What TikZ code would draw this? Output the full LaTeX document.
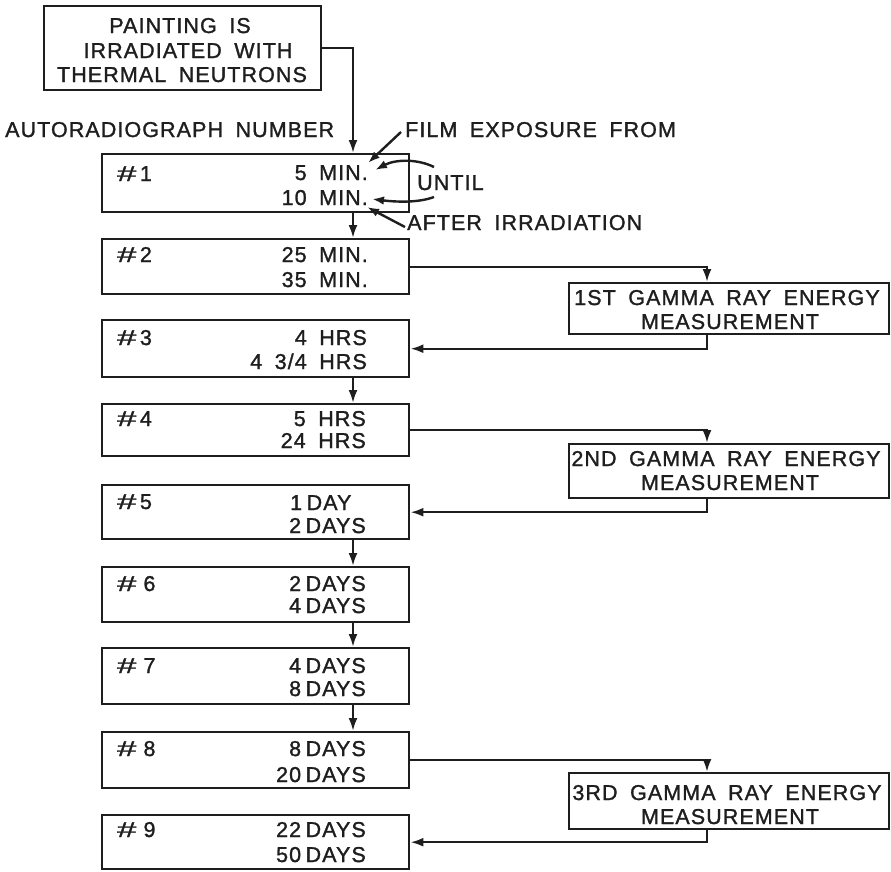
\documentclass[tikz,border=0pt]{standalone}
\usepackage{fontspec}
\usepackage{graphicx}
\setmainfont{Liberation Sans}[LetterSpace=5.0,FakeBold=1.3]
\usetikzlibrary{arrows.meta,calc}
\definecolor{ink}{RGB}{30,30,30}
\newcommand{\hs}{\scalebox{1.6}[1]{\#}}
\protected\def\widesp{\spaceskip=12.5pt\relax}
\protected\def\narrowsp{\spaceskip=4.5pt\relax}
\begin{document}
\begin{tikzpicture}[x=1pt,y=-1pt,
  box/.style={draw=ink,line width=2.4pt,inner sep=0pt,anchor=north west},
  lbl/.style={text=ink,inner sep=0pt,font=\fontsize{21.5}{24}\selectfont\widesp},
  days/.style={lbl,font=\fontsize{21.5}{24}\selectfont\narrowsp},
  conn/.style={draw=ink,line width=2.4pt},
  arr/.style={conn,-{Latex[length=13pt,width=9pt]}},
  sarr/.style={conn,-{Latex[length=12pt,width=8.5pt]}},
]
\useasboundingbox[fill=white] (0,0) rectangle (891,871);

% helper columns
\coordinate (col) at (353,0);
\coordinate (gcol) at (707,0);

% top box
\node[box,minimum width=277pt,minimum height=84pt] (topbox) at (43,5) {};
\node[lbl,anchor=base] (tl1) at (180,33) {PAINTING IS};
\node[lbl,anchor=base] (tl2) at (188,58) {IRRADIATED WITH};
\node[lbl,anchor=base] (tl3) at (182,82) {THERMAL NEUTRONS};

% outside labels
\node[lbl,anchor=base west] (autonum) at (5,137) {AUTORADIOGRAPH NUMBER};
\node[lbl,anchor=base west] (film) at (405,137) {FILM EXPOSURE FROM};
\node[lbl,anchor=base west] (until) at (417,190) {UNTIL};
\node[lbl,anchor=base west] (after) at (407,230) {AFTER IRRADIATION};

% autoradiograph boxes
\node[box,minimum width=307pt,minimum height=58pt] (b1) at (101,153) {};
\node[box,minimum width=307pt,minimum height=55pt] (b2) at (101,238) {};
\node[box,minimum width=307pt,minimum height=57pt] (b3) at (101,319) {};
\node[box,minimum width=307pt,minimum height=52pt] (b4) at (101,403) {};
\node[box,minimum width=307pt,minimum height=54pt] (b5) at (101,484) {};
\node[box,minimum width=307pt,minimum height=55pt] (b6) at (101,566) {};
\node[box,minimum width=307pt,minimum height=56pt] (b7) at (101,647) {};
\node[box,minimum width=307pt,minimum height=56pt] (b8) at (101,731) {};
\node[box,minimum width=307pt,minimum height=54pt] (b9) at (101,814) {};

% box texts
\node[lbl,anchor=base west] (n1) at (117,181) {\hs\,1};
\node[lbl,anchor=base east] (r1a) at (368,180) {5 MIN.};
\node[lbl,anchor=base east] (r1b) at (368,205) {10 MIN.};

\node[lbl,anchor=base west] (n2) at (117,262) {\hs\,2};
\node[lbl,anchor=base east] (r2a) at (368,262) {25 MIN.};
\node[lbl,anchor=base east] (r2b) at (368,287) {35 MIN.};

\node[lbl,anchor=base west] (n3) at (117,345) {\hs\,3};
\node[lbl,anchor=base east] (r3a) at (367,345) {4 HRS};
\node[lbl,anchor=base east] (r3b) at (367,369) {4 3/4 HRS};

\node[lbl,anchor=base west] (n4) at (117,426) {\hs\,4};
\node[lbl,anchor=base east] (r4a) at (366,426) {5 HRS};
\node[lbl,anchor=base east] (r4b) at (366,448) {24 HRS};

\node[lbl,anchor=base west] (n5) at (117,509) {\hs\,5};
\node[days,anchor=base west] (r5a) at (290,510) {1 DAY};
\node[days,anchor=base east] (r5b) at (366,533) {2 DAYS};

\node[lbl,anchor=base west] (n6) at (117,591) {\hs\,\,6};
\node[days,anchor=base east] (r6a) at (366,591) {2 DAYS};
\node[days,anchor=base east] (r6b) at (366,613) {4 DAYS};

\node[lbl,anchor=base west] (n7) at (117,673) {\hs\,\,7};
\node[days,anchor=base east] (r7a) at (366,673) {4 DAYS};
\node[days,anchor=base east] (r7b) at (366,696) {8 DAYS};

\node[lbl,anchor=base west] (n8) at (117,756) {\hs\,\,8};
\node[days,anchor=base east] (r8a) at (366,756) {8 DAYS};
\node[days,anchor=base east] (r8b) at (366,782) {20 DAYS};

\node[lbl,anchor=base west] (n9) at (117,837) {\hs\,\,9};
\node[days,anchor=base east] (r9a) at (366,837) {22 DAYS};
\node[days,anchor=base east] (r9b) at (366,862) {50 DAYS};

% gamma boxes
\node[box,minimum width=320pt,minimum height=51pt] (g1) at (568,282) {};
\node[lbl,anchor=base] (g1a) at (727,305) {1ST GAMMA RAY ENERGY};
\node[lbl,anchor=base] (g1b) at (730,329) {MEASUREMENT};

\node[box,minimum width=320pt,minimum height=54pt] (g2) at (568,443) {};
\node[lbl,anchor=base] (g2a) at (726,466) {2ND GAMMA RAY ENERGY};
\node[lbl,anchor=base] (g2b) at (730,490) {MEASUREMENT};

\node[box,minimum width=320pt,minimum height=56pt] (g3) at (568,772) {};
\node[lbl,anchor=base] (g3a) at (727,800) {3RD GAMMA RAY ENERGY};
\node[lbl,anchor=base] (g3b) at (730,824) {MEASUREMENT};

% main flow
\draw[arr] (topbox.east) -| (b1.north -| col);
\draw[arr] (b1.south -| col) -- (b2.north -| col);
\draw[arr] (b3.south -| col) -- (b4.north -| col);
\draw[arr] (b5.south -| col) -- (b6.north -| col);
\draw[arr] (b6.south -| col) -- (b7.north -| col);
\draw[arr] (b7.south -| col) -- (b8.north -| col);

% gamma loops
\draw[arr] (b2.east) -| (g1.north -| gcol);
\draw[arr] (g1.south -| gcol) |- (b3.east);
\draw[arr] (b4.east) -| (g2.north -| gcol);
\draw[arr] (g2.south -| gcol) |- (b5.east);
\draw[arr] (b8.east) -| (g3.north -| gcol);
\draw[arr] (g3.south -| gcol) |- (b9.east);

% annotation arrows
\coordinate (filmtail) at (401,132);
\coordinate (filmtip) at (368,163);
\coordinate (u1s) at (434,167);
\coordinate (u1e) at (375,170);
\coordinate (u2s) at (434,197);
\coordinate (u2e) at (372,199);
\coordinate (aftail) at (405,227);
\coordinate (aftip) at (367,207);
\draw[sarr] (filmtail) -- (filmtip);
\draw[sarr] (u1s) .. controls (418,159) and (396,159) .. (u1e);
\draw[sarr] (u2s) .. controls (418,203) and (396,202) .. (u2e);
\draw[sarr] (aftail) -- (aftip);
\end{tikzpicture}
\end{document}
